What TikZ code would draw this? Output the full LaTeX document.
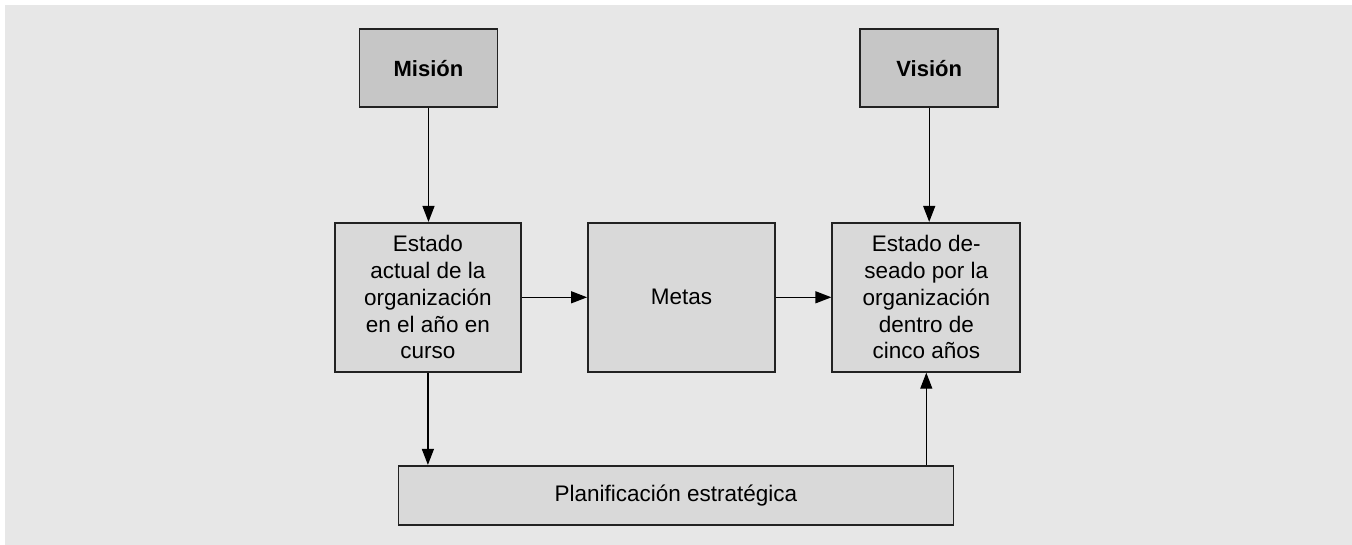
\documentclass[tikz,border=0pt]{standalone}
\usepackage{fontspec}
\setmainfont{Liberation Sans}
\usetikzlibrary{arrows.meta}
\definecolor{fondo}{HTML}{E7E7E7}
\definecolor{oscuro}{HTML}{C6C6C6}
\definecolor{claro}{HTML}{D9D9D9}
\definecolor{borde}{HTML}{222222}

\begin{document}
\begin{tikzpicture}[x=1pt, y=-1pt,
  caja/.style={draw=borde, line width=1.8pt, fill=claro, inner sep=0pt, align=center,
    font=\fontsize{22.5}{26.8}\selectfont},
  cajaosc/.style={caja, fill=oscuro, font=\fontsize{22}{26.8}\selectfont\bfseries},
  flecha/.style={line width=1.3pt, -{Triangle[length=16pt,width=12pt]}}]
  \useasboundingbox (0,0) rectangle (1352,545);
  \fill[fondo] (5,5) rectangle (1352,545);
  %\draw (0,0) grid (1352,545);
  \node[cajaosc, minimum width=138pt, minimum height=78pt] (mision) at (428.5,68.2) {Misión};
  \node[cajaosc, minimum width=138pt, minimum height=78pt] (vision) at (929.2,68.2) {Visión};
  \node[caja, minimum width=186pt, minimum height=149pt] (actual) at (427.9,297.3)
    {Estado\\actual de la\\organización\\en el año en\\curso};
  \node[caja, minimum width=187pt, minimum height=149pt] (metas) at (681.5,297.3) {Metas};
  \node[caja, minimum width=188pt, minimum height=149pt] (deseado) at (926.3,297.3)
    {Estado de-\\seado por la\\organización\\dentro de\\cinco años};
  \node[caja, minimum width=555pt, minimum height=59pt] (plan) at (675.9,495.3)
    {Planificación estratégica};
  \draw[flecha] (mision.south) -- (mision.south |- actual.north);
  \draw[flecha] (vision.south) -- (vision.south |- deseado.north);
  \draw[flecha] (actual.east) -- (metas.west);
  \draw[flecha] (metas.east) -- (deseado.west);
  \draw[flecha] (actual.south) -- (actual.south |- plan.north);
  \draw[flecha] (plan.north -| deseado.south) -- (deseado.south);
\end{tikzpicture}
\end{document}
